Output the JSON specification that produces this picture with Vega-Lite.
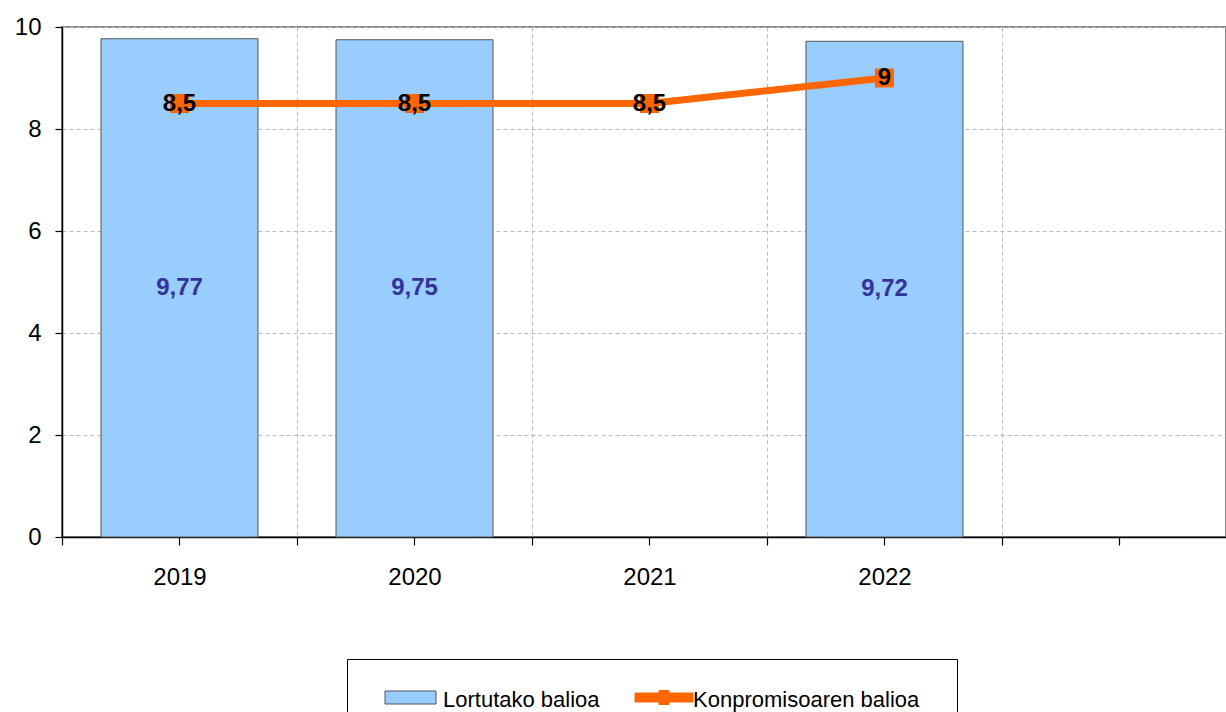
{
  "$schema": "https://vega.github.io/schema/vega-lite/v6.json",
  "width": 1164,
  "height": 510,
  "autosize": {"type": "none"},
  "padding": {"left": 62, "top": 27, "right": 0, "bottom": 175},
  "background": "white",
  "config": {
    "font": "Liberation Sans",
    "locale": {"number": {"decimal": ",", "thousands": ".", "grouping": [3], "currency": ["", " €"]}},
    "view": {"stroke": "#888888", "strokeWidth": 2},
    "axis": {
      "domainColor": "black",
      "domainWidth": 1.5,
      "tickColor": "black",
      "tickWidth": 1.2,
      "labelColor": "black",
      "labelFontSize": 24,
      "gridColor": "#bbbbbb",
      "gridDash": [4, 3],
      "gridWidth": 1
    },
    "axisY": {"tickSize": 7, "labelPadding": 14, "grid": true},
    "axisX": {"tickSize": 8, "labelPadding": 20}
  },
  "data": {
    "values": [
      {"year": "2019", "lortutako": 9.77, "konpromiso": 8.5},
      {"year": "2020", "lortutako": 9.75, "konpromiso": 8.5},
      {"year": "2021", "lortutako": null, "konpromiso": 8.5},
      {"year": "2022", "lortutako": 9.72, "konpromiso": 9}
    ]
  },
  "resolve": {"axis": {"x": "independent"}},
  "layer": [
    {
      "transform": [{"filter": "datum.lortutako != null"}],
      "mark": {"type": "bar", "stroke": "#555555", "strokeWidth": 1, "width": {"band": 0.668}, "opacity": 1},
      "encoding": {
        "x": {
          "field": "year", "type": "ordinal",
          "scale": {"domain": ["2019", "2020", "2021", "2022", ""], "range": [0, 1175], "paddingInner": 0, "paddingOuter": 0},
          "axis": {"title": null, "orient": "bottom", "tickBand": "extent", "grid": true, "labelAngle": 0}
        },
        "y": {"field": "lortutako", "type": "quantitative", "scale": {"domain": [0, 10]}, "axis": {"title": null, "values": [0, 2, 4, 6, 8, 10]}},
        "color": {
          "datum": "Lortutako balioa", "type": "nominal",
          "scale": {"domain": ["Lortutako balioa", "Konpromisoaren balioa"], "range": ["#99CCFF", "#FF6600"]},
          "legend": {
            "orient": "none",
            "legendX": 285,
            "legendY": 632,
            "direction": "horizontal",
            "title": null,
            "strokeColor": "black",
            "padding": 37,
            "labelFontSize": 22,
            "labelColor": "black",
            "labelLimit": 400,
            "labelOffset": 37,
            "labelBaseline": "alphabetic",
            "columnPadding": 33,
            "symbolSize": 400,
            "symbolStrokeWidth": 1,
            "symbolOpacity": 1,
            "symbolType": {"expr": "datum.value === 'Lortutako balioa' ? 'M-1,-1.6H4.1V-0.3H-1Z' : 'M-1,-1.4H4.8V-0.5H-1Z M1.4,-1.65H2.4V-0.25H1.4Z'"},
            "symbolStrokeColor": {"expr": "datum.value === 'Lortutako balioa' ? '#555555' : '#FF6600'"}
          }
        }
      }
    },
    {
      "transform": [{"filter": "datum.lortutako != null"}, {"calculate": "datum.lortutako / 2", "as": "mid"}],
      "mark": {"type": "text", "fontSize": 24, "fontWeight": "bold", "color": "#333399", "baseline": "middle"},
      "encoding": {
        "x": {"field": "year", "type": "ordinal", "axis": null},
        "y": {"field": "mid", "type": "quantitative", "axis": {"title": null, "values": [0, 2, 4, 6, 8, 10]}},
        "text": {"field": "lortutako", "type": "quantitative", "format": ".3~g"}
      }
    },
    {
      "mark": {"type": "line", "color": "#FF6600", "strokeWidth": 7},
      "encoding": {
        "x": {"field": "year", "type": "ordinal", "axis": {"title": null, "orient": "bottom", "tickBand": "center", "labels": false, "domain": false, "grid": false, "ticks": true}},
        "y": {"field": "konpromiso", "type": "quantitative", "axis": {"title": null, "values": [0, 2, 4, 6, 8, 10]}}
      }
    },
    {
      "mark": {"type": "point", "shape": "square", "filled": true, "color": "#FF6600", "size": 360, "opacity": 1},
      "encoding": {
        "x": {"field": "year", "type": "ordinal", "axis": null},
        "y": {"field": "konpromiso", "type": "quantitative", "axis": {"title": null, "values": [0, 2, 4, 6, 8, 10]}}
      }
    },
    {
      "mark": {"type": "text", "fontSize": 24, "fontWeight": "bold", "color": "black", "baseline": "middle"},
      "encoding": {
        "x": {"field": "year", "type": "ordinal", "axis": null},
        "y": {"field": "konpromiso", "type": "quantitative", "axis": {"title": null, "values": [0, 2, 4, 6, 8, 10]}},
        "text": {"field": "konpromiso", "type": "quantitative", "format": ".3~g"}
      }
    }
  ]
}
